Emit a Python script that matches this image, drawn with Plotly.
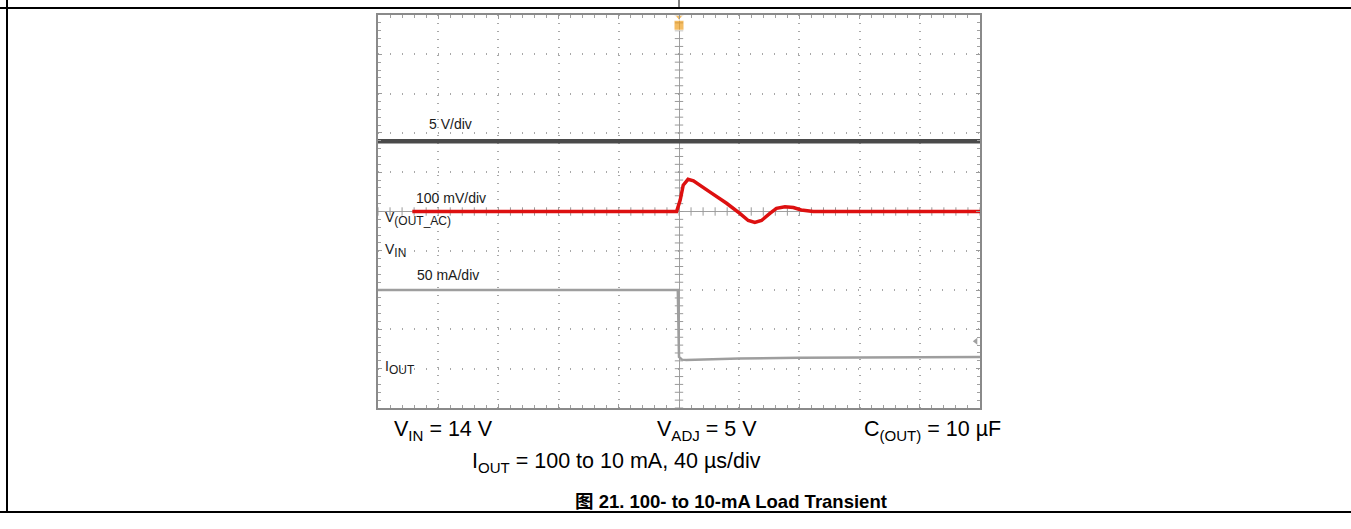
import numpy as np
import plotly.graph_objects as go

# ---- data (in scope divisions, centre of screen = 0,0) ----
vin_x = [-5.0, 5.0]
vin_y = [1.79, 1.79]

vout_x = [-4.43, -0.04, 0.02, 0.07, 0.15, 0.24, 0.51, 0.79, 1.01, 1.15, 1.26, 1.37, 1.51, 1.62, 1.76, 1.90, 2.03, 2.23, 5.0]
vout_y = [0.0, 0.0, 0.29, 0.67, 0.82, 0.78, 0.50, 0.21, -0.05, -0.23, -0.28, -0.23, -0.05, 0.08, 0.12, 0.10, 0.04, 0.0, 0.0]

iout_x = [-5.0, -0.02, 0.0, 0.05, 0.12, 1.0, 2.0, 3.5, 5.0]
iout_y = [-2.0, -2.0, -3.70, -3.77, -3.78, -3.74, -3.72, -3.71, -3.70]

SUB = "<sub><span style='font-size:12px'>{}</span></sub>"
label_text = ["5 V/div", "100 mV/div", "V" + SUB.format("(OUT_AC)"), "V" + SUB.format("IN"),
              "50 mA/div", "I" + SUB.format("OUT")]
label_x = [-4.19, -4.40, -4.92, -4.92, -4.39, -4.92]
label_y = [2.23, 0.34, -0.17, -0.98, -1.62, -3.98]

cond_text = ["V<sub>IN</sub> = 14 V", "V<sub>ADJ</sub> = 5 V", "C<sub>(OUT)</sub> = 10 µF",
             "I<sub>OUT</sub> = 100 to 10 mA, 40 µs/div"]
caption = "图 21. 100- to 10-mA Load Transient"

W, H = 1351, 529
L, R, T, B = 378, 980, 15, 408

def px(xp):
    return (xp - L) / (R - L)

def py(yp):
    return (B - yp) / (B - T)

FONT = "Liberation Sans, Arial, Noto Sans CJK SC, sans-serif"

fig = go.Figure()

# centre crosshair tick marks
ticks = np.round(np.arange(-5, 5.001, 0.2), 2)
fig.add_trace(go.Scatter(x=ticks, y=np.zeros_like(ticks), mode="markers",
                         marker=dict(symbol="line-ns", size=6, line=dict(width=1, color="#9a9a9a")),
                         hoverinfo="skip", showlegend=False))
fig.add_trace(go.Scatter(x=np.zeros_like(ticks), y=ticks, mode="markers",
                         marker=dict(symbol="line-ew", size=6, line=dict(width=1, color="#9a9a9a")),
                         hoverinfo="skip", showlegend=False))

fig.add_trace(go.Scatter(x=vin_x, y=vin_y, mode="lines", line=dict(color="#4a4a4a", width=4.5),
                         showlegend=False, name="VIN"))
fig.add_trace(go.Scatter(x=iout_x, y=iout_y, mode="lines", line=dict(color="#9e9e9e", width=2.5),
                         showlegend=False, name="IOUT"))
fig.add_trace(go.Scatter(x=vout_x, y=vout_y, mode="lines", line=dict(color="#dd1010", width=3.5),
                         showlegend=False, name="VOUT"))

# trigger marker and channel marker
fig.add_trace(go.Scatter(x=[0, 0], y=[4.95, 4.74], mode="markers", cliponaxis=False,
                         marker=dict(symbol=["triangle-down", "square"], size=[7, 10], color="#f0a020"),
                         hoverinfo="skip", showlegend=False))
fig.add_trace(go.Scatter(x=[4.93], y=[-3.3], mode="markers", cliponaxis=False,
                         marker=dict(symbol="triangle-left", size=6, color="#a0a0a0"),
                         hoverinfo="skip", showlegend=False))

axis_common = dict(showticklabels=False, showgrid=True, gridcolor="#a8a8a8", gridwidth=1.5,
                   zeroline=True, zerolinecolor="#a0a0a0", zerolinewidth=1,
                   showline=True, linecolor="#8a8a8a", linewidth=1.5, mirror="allticks",
                   ticks="inside", ticklen=4, tickcolor="#9a9a9a", dtick=1,
                   minor=dict(dtick=0.2, ticks="inside", ticklen=3, tickcolor="#a0a0a0", showgrid=False))

fig.update_xaxes(range=[-5, 5], griddash="1px,7px", **axis_common)
fig.update_yaxes(range=[-5, 5], griddash="1px,11px", **axis_common)

for t, x, y in zip(label_text, label_x, label_y):
    fig.add_annotation(x=x, y=y, xref="x", yref="y", text=t, showarrow=False,
                       xanchor="left", yanchor="middle", font=dict(family=FONT, size=14, color="#1a1a1a"))

cond_px = [(392, 431), (655, 431), (862, 431), (470, 462)]
for t, (xx, yy) in zip(cond_text, cond_px):
    fig.add_annotation(x=px(xx), y=py(yy), xref="paper", yref="paper", text=t, showarrow=False,
                       xanchor="left", yanchor="middle", font=dict(family=FONT, size=21.5, color="#000000"))

fig.add_annotation(x=px(731), y=py(501), xref="paper", yref="paper", text="<b>" + caption + "</b>",
                   showarrow=False, xanchor="center", yanchor="middle",
                   font=dict(family=FONT, size=18.5, color="#000000"))

# outer table frame
frame = dict(color="#000000", width=2)
fig.add_shape(type="line", xref="paper", yref="paper", x0=px(0), x1=px(W), y0=py(8), y1=py(8), line=frame)
fig.add_shape(type="line", xref="paper", yref="paper", x0=px(0), x1=px(W), y0=py(512), y1=py(512), line=frame)
fig.add_shape(type="line", xref="paper", yref="paper", x0=px(7), x1=px(7), y0=py(0), y1=py(512), line=frame)
fig.add_shape(type="line", xref="paper", yref="paper", x0=px(679), x1=px(679), y0=py(0), y1=py(8),
              line=dict(color="#000000", width=1))

fig.update_layout(width=W, height=H, margin=dict(l=L, r=W - R, t=T, b=H - B, pad=0),
                  paper_bgcolor="white", plot_bgcolor="white", showlegend=False)

fig.write_html("out.html", config={"displayModeBar": False},
               post_script="document.body.style.margin='0';document.body.style.overflow='hidden';")
